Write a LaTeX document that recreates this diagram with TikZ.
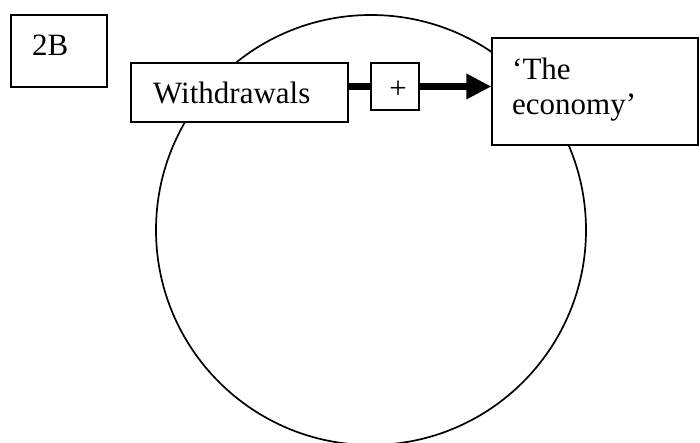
\documentclass[tikz,border=0pt]{standalone}
\usepackage{fontspec}
\setmainfont{Liberation Serif}
\usetikzlibrary{arrows.meta}
\begin{document}
\begin{tikzpicture}[x=1pt,y=1pt,
  box/.style={draw=black, line width=1.3pt, fill=white, rectangle, inner sep=0pt},
  txt/.style={inner sep=0pt, font=\fontsize{31}{36}\selectfont},
  loop/.style={draw=black, line width=1.7pt, circle, inner sep=0pt, minimum size=430pt},
  flow/.style={line width=7pt, -{Triangle[length=25pt,width=24pt]}}]
\useasboundingbox (0,0) rectangle (700,443);
% loop circle
\node[loop] (cyc) at (371,213) {};
% label box
\node[box, minimum width=96pt, minimum height=72pt] (tag) at (59,392) {};
\node[txt, anchor=base west] (tagt) at (32,387) {2B};
% withdrawals
\node[box, minimum width=217pt, minimum height=59pt] (wd) at (239.5,350.5) {};
\node[txt, anchor=base west] (wdt) at (153,339) {Withdrawals};
% economy
\node[box, minimum width=206pt, minimum height=107pt] (eco) at (595,351.5) {};
\node[txt, anchor=base west] (ecot1) at (512,363) {‘The};
\node[txt, anchor=base west] (ecot2) at (512,328) {economy’};
% plus box position
\coordinate (pc) at (395,356.5);
\draw[flow] (wd.east |- pc) -- (eco.west |- pc);
\node[box, minimum width=48pt, minimum height=47pt] (pl) at (pc) {};
\node[txt] (plt) at (398,353) {+};
\end{tikzpicture}
\end{document}
